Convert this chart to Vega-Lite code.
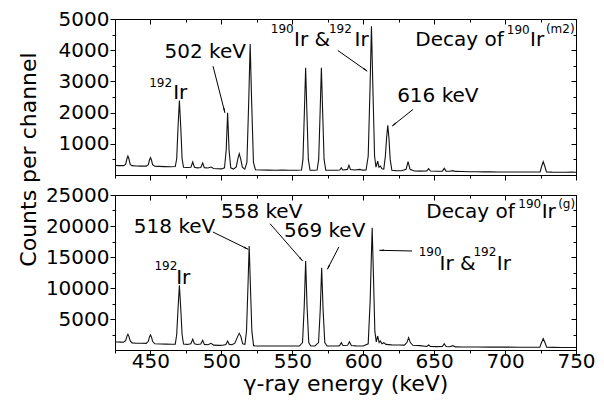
{
  "$schema": "https://vega.github.io/schema/vega-lite/v6.json",
  "padding": {"left": 16, "top": 8, "right": 5, "bottom": 2},
  "spacing": 20,
  "bounds": "flush",
  "config": {
    "font": "DejaVu Sans",
    "view": {"stroke": "black", "strokeWidth": 1},
    "axis": {"domainColor": "black", "tickColor": "black", "labelColor": "black", "titleColor": "black", "grid": false, "labelFontSize": 20, "titleFontSize": 22, "titleFontWeight": "normal", "labelFont": "DejaVu Sans", "titleFont": "DejaVu Sans", "domainWidth": 1, "tickWidth": 1, "labelOverlap": false, "labelFlush": false, "labelPadding": 1},
    "text": {"font": "DejaVu Sans", "color": "black"}
  },
  "datasets": {
    "m2": [
      {"e":425,"c":310},{"e":427,"c":300},{"e":429,"c":305},{"e":431,"c":300},{"e":432.5,"c":340},{"e":433.4,"c":520},{"e":434.1,"c":608},{"e":434.8,"c":520},{"e":435.7,"c":340},{"e":437,"c":300},{"e":440,"c":290},{"e":443,"c":285},{"e":447,"c":285},{"e":448.5,"c":330},{"e":449.3,"c":480},{"e":450,"c":554},{"e":450.7,"c":480},{"e":451.5,"c":330},{"e":453,"c":280},{"e":456,"c":275},{"e":460,"c":270},{"e":464,"c":265},{"e":467.5,"c":270},{"e":468.5,"c":520},{"e":469.4,"c":1500},{"e":470.4,"c":2390},{"e":471.4,"c":1500},{"e":472.3,"c":520},{"e":473.3,"c":250},{"e":476,"c":240},{"e":478.5,"c":250},{"e":479.8,"c":416},{"e":481,"c":250},{"e":483,"c":230},{"e":485.5,"c":240},{"e":486.8,"c":384},{"e":488,"c":235},{"e":490.5,"c":225},{"e":492.7,"c":256},{"e":494.5,"c":210},{"e":497,"c":200},{"e":500,"c":195},{"e":502.2,"c":230},{"e":503.4,"c":800},{"e":504.4,"c":1994},{"e":505.4,"c":800},{"e":506.6,"c":230},{"e":508.5,"c":190},{"e":510.5,"c":260},{"e":511.6,"c":520},{"e":512.6,"c":682},{"e":513.6,"c":520},{"e":514.8,"c":250},{"e":516.5,"c":190},{"e":518,"c":400},{"e":519.3,"c":2400},{"e":520.3,"c":4202},{"e":521.3,"c":2400},{"e":522.6,"c":400},{"e":524,"c":170},{"e":528,"c":160},{"e":533,"c":155},{"e":538,"c":150},{"e":543,"c":155},{"e":548,"c":150},{"e":553,"c":150},{"e":556.5,"c":160},{"e":557.5,"c":500},{"e":558.5,"c":2000},{"e":559.4,"c":3434},{"e":560.3,"c":2000},{"e":561.3,"c":500},{"e":562.5,"c":150},{"e":565,"c":150},{"e":567.5,"c":160},{"e":568.6,"c":500},{"e":569.6,"c":2000},{"e":570.5,"c":3434},{"e":571.4,"c":2000},{"e":572.4,"c":500},{"e":573.6,"c":150},{"e":577,"c":150},{"e":581,"c":150},{"e":583.5,"c":160},{"e":584.5,"c":234},{"e":585.5,"c":160},{"e":588.8,"c":180},{"e":589.9,"c":310},{"e":591,"c":175},{"e":594,"c":160},{"e":597.6,"c":181},{"e":599.5,"c":155},{"e":602,"c":160},{"e":603.5,"c":600},{"e":604.8,"c":2800},{"e":605.8,"c":4768},{"e":606.8,"c":2800},{"e":608,"c":600},{"e":609,"c":250},{"e":610.2,"c":448},{"e":611.1,"c":250},{"e":612.1,"c":288},{"e":613.2,"c":200},{"e":614.5,"c":190},{"e":615.6,"c":600},{"e":616.5,"c":1200},{"e":617.3,"c":1590},{"e":618.1,"c":1200},{"e":619,"c":500},{"e":620.2,"c":150},{"e":623,"c":140},{"e":627,"c":135},{"e":630.2,"c":180},{"e":631.6,"c":427},{"e":633,"c":180},{"e":636,"c":130},{"e":640,"c":125},{"e":644.8,"c":130},{"e":646.1,"c":203},{"e":647.4,"c":128},{"e":652,"c":120},{"e":655.8,"c":125},{"e":657.1,"c":213},{"e":658.4,"c":125},{"e":661,"c":120},{"e":663.2,"c":140},{"e":665,"c":115},{"e":670,"c":110},{"e":675,"c":105},{"e":680,"c":103},{"e":685,"c":100},{"e":690,"c":100},{"e":695,"c":98},{"e":700,"c":97},{"e":705,"c":96},{"e":710,"c":95},{"e":715,"c":95},{"e":720,"c":95},{"e":724.7,"c":100},{"e":725.8,"c":280},{"e":726.9,"c":427},{"e":728,"c":280},{"e":729.2,"c":100},{"e":733,"c":92},{"e":738,"c":90},{"e":743,"c":88},{"e":747,"c":92},{"e":750,"c":90}
    ],
    "g": [
      {"e":425,"c":1290},{"e":427,"c":1280},{"e":429,"c":1270},{"e":431,"c":1250},{"e":432.5,"c":1500},{"e":433.4,"c":2200},{"e":434.1,"c":2527},{"e":434.8,"c":2200},{"e":435.7,"c":1500},{"e":437,"c":1150},{"e":440,"c":1100},{"e":444,"c":1080},{"e":447,"c":1075},{"e":448.5,"c":1400},{"e":449.3,"c":2100},{"e":450,"c":2419},{"e":450.7,"c":2100},{"e":451.5,"c":1400},{"e":453,"c":1000},{"e":457,"c":960},{"e":461,"c":940},{"e":465,"c":920},{"e":467.5,"c":950},{"e":468.5,"c":2500},{"e":469.4,"c":6500},{"e":470.4,"c":10430},{"e":471.4,"c":6500},{"e":472.3,"c":2500},{"e":473.3,"c":950},{"e":476,"c":900},{"e":478.5,"c":1000},{"e":479.8,"c":1720},{"e":481,"c":1000},{"e":483,"c":880},{"e":485.5,"c":950},{"e":486.8,"c":1559},{"e":488,"c":900},{"e":490.5,"c":850},{"e":492.7,"c":1075},{"e":494.5,"c":780},{"e":498,"c":750},{"e":501,"c":760},{"e":503.2,"c":900},{"e":504.4,"c":1452},{"e":505.6,"c":900},{"e":507.5,"c":850},{"e":509.5,"c":1100},{"e":511.5,"c":2200},{"e":512.6,"c":2688},{"e":513.7,"c":2200},{"e":515,"c":1000},{"e":516.6,"c":900},{"e":517.7,"c":3000},{"e":518.7,"c":10000},{"e":519.6,"c":16774},{"e":520.5,"c":10000},{"e":521.5,"c":3000},{"e":522.7,"c":700},{"e":525,"c":650},{"e":530,"c":645},{"e":535,"c":640},{"e":540,"c":640},{"e":545,"c":645},{"e":550,"c":640},{"e":555,"c":645},{"e":557.2,"c":1200},{"e":558.4,"c":7000},{"e":559.4,"c":14355},{"e":560.4,"c":7000},{"e":561.6,"c":1200},{"e":563,"c":650},{"e":566,"c":645},{"e":568.5,"c":1200},{"e":569.7,"c":6500},{"e":570.7,"c":13280},{"e":571.7,"c":6500},{"e":572.9,"c":1200},{"e":574.5,"c":650},{"e":578,"c":645},{"e":582,"c":650},{"e":583.3,"c":700},{"e":584.5,"c":1183},{"e":585.7,"c":720},{"e":589,"c":760},{"e":590.3,"c":1344},{"e":591.6,"c":720},{"e":595,"c":660},{"e":600,"c":650},{"e":603.5,"c":1000},{"e":604.9,"c":8000},{"e":605.6,"c":14000},{"e":606.3,"c":19731},{"e":607.2,"c":12000},{"e":608.2,"c":3000},{"e":609.2,"c":1300},{"e":610.2,"c":2258},{"e":611.2,"c":1200},{"e":612.1,"c":1452},{"e":613.2,"c":1000},{"e":614.5,"c":1183},{"e":616,"c":900},{"e":620,"c":830},{"e":625,"c":800},{"e":629,"c":790},{"e":630.8,"c":1200},{"e":632,"c":1989},{"e":633.2,"c":1200},{"e":635,"c":760},{"e":640,"c":700},{"e":644.8,"c":560},{"e":646.1,"c":806},{"e":647.4,"c":560},{"e":652,"c":540},{"e":655.8,"c":560},{"e":657.1,"c":1022},{"e":658.4,"c":560},{"e":661,"c":520},{"e":663.2,"c":700},{"e":665,"c":500},{"e":670,"c":490},{"e":680,"c":480},{"e":690,"c":470},{"e":700,"c":460},{"e":710,"c":450},{"e":718,"c":440},{"e":724.5,"c":440},{"e":725.7,"c":1200},{"e":726.9,"c":1828},{"e":728.1,"c":1200},{"e":729.3,"c":450},{"e":734,"c":420},{"e":740,"c":410},{"e":745,"c":405},{"e":750,"c":400}
    ],
    "m2txt": [
      {"t":"Ir","e":466.0,"c":2432,"k":"big"},
      {"t":"502 keV","e":459.9,"c":3734,"k":"big"},
      {"t":"Ir &","e":551.2,"c":4120,"k":"big"},
      {"t":"Ir","e":593.9,"c":4120,"k":"big"},
      {"t":"Decay of","e":636.7,"c":4120,"k":"big"},
      {"t":"Ir","e":717.6,"c":4120,"k":"big"},
      {"t":"616 keV","e":623.9,"c":2336,"k":"big"},
      {"t":"192","e":449.1,"c":2816,"k":"small"},
      {"t":"190","e":534.8,"c":4544,"k":"small"},
      {"t":"192","e":575.8,"c":4544,"k":"small"},
      {"t":"190","e":701.2,"c":4512,"k":"small"},
      {"t":"(m2)","e":728.8,"c":4544,"k":"small"}
    ],
    "gtxt": [
      {"t":"518 keV","e":438.3,"c":18823,"k":"big"},
      {"t":"558 keV","e":499.7,"c":21339,"k":"big"},
      {"t":"569 keV","e":544.1,"c":18274,"k":"big"},
      {"t":"Ir","e":468.1,"c":10694,"k":"big"},
      {"t":"Decay of","e":644.5,"c":21339,"k":"big"},
      {"t":"Ir","e":725.8,"c":21339,"k":"big"},
      {"t":"Ir &","e":653.8,"c":12855,"k":"big"},
      {"t":"Ir","e":694.2,"c":12855,"k":"big"},
      {"t":"192","e":452.8,"c":12903,"k":"small"},
      {"t":"190","e":709.3,"c":22952,"k":"small"},
      {"t":"(g)","e":737.4,"c":22952,"k":"small"},
      {"t":"190","e":639.1,"c":15113,"k":"small"},
      {"t":"192","e":677.7,"c":15113,"k":"small"}
    ],
    "m2arr": [
      {"x1":494.1,"y1":3488,"x2":502.5,"y2":1994},
      {"x1":582.1,"y1":3990,"x2":602.8,"y2":3328},
      {"x1":635.1,"y1":2102,"x2":620.4,"y2":1568}
    ],
    "garr": [
      {"x1":494.0,"y1":19032,"x2":518.9,"y2":16242},
      {"x1":534.3,"y1":20371,"x2":557.3,"y2":14355},
      {"x1":582.8,"y1":16613,"x2":574.7,"y2":13016},
      {"x1":634.4,"y1":15968,"x2":611.4,"y2":16081}
    ]
  },
  "vconcat": [
    {
      "width": 461,
      "height": 156,
      "layer": [
        {
          "data": {"name": "m2"},
          "mark": {"type": "line", "color": "#111111", "strokeWidth": 1.1},
          "encoding": {
            "x": {"field": "e", "type": "quantitative", "scale": {"domain": [425, 750], "nice": false, "zero": false},
              "axis": {"values": [425,450,475,500,525,550,575,600,625,650,675,700,725,750], "labels": false, "title": null,
                "tickSize": {"condition": {"test": "datum.value % 50 === 0", "value": 5}, "value": 3}}},
            "y": {"field": "c", "type": "quantitative", "scale": {"domain": [0, 5000], "nice": false},
              "axis": {"values": [500,1000,1500,2000,2500,3000,3500,4000,4500,5000], "format": "d",
                "labelExpr": "datum.value % 1000 === 0 ? datum.label : ''",
                "tickSize": {"condition": {"test": "datum.value % 1000 === 0", "value": 5}, "value": 3},
                "title": "Counts per channel", "titleAngle": 270, "titleX": -87, "titleY": 140, "titleAlign": "center", "titleBaseline": "middle"}}
          }
        },
        {
          "data": {"name": "m2txt"},
          "transform": [{"filter": "datum.k === 'big'"}],
          "mark": {"type": "text", "align": "left", "baseline": "alphabetic", "fontSize": 20},
          "encoding": {
            "x": {"field": "e", "type": "quantitative",
              "axis": {"orient": "top", "values": [425,450,475,500,525,550,575,600,625,650,675,700,725,750], "labels": false, "title": null, "domain": false,
                "tickSize": {"condition": {"test": "datum.value % 50 === 0", "value": -5}, "value": -3}}},
            "y": {"field": "c", "type": "quantitative",
              "axis": {"orient": "right", "values": [500,1000,1500,2000,2500,3000,3500,4000,4500], "labels": false, "title": null, "domain": false,
                "tickSize": {"condition": {"test": "datum.value % 1000 === 0", "value": -5}, "value": -3}}},
            "text": {"field": "t"}
          }
        },
        {
          "data": {"name": "m2txt"},
          "transform": [{"filter": "datum.k === 'small'"}],
          "mark": {"type": "text", "align": "left", "baseline": "alphabetic", "fontSize": 12},
          "encoding": {
            "x": {"field": "e", "type": "quantitative", "axis": null},
            "y": {"field": "c", "type": "quantitative", "axis": null},
            "text": {"field": "t"}
          }
        },
        {
          "data": {"name": "m2arr"},
          "mark": {"type": "rule", "color": "black", "strokeWidth": 1},
          "encoding": {
            "x": {"field": "x1", "type": "quantitative", "axis": null},
            "y": {"field": "y1", "type": "quantitative", "axis": null},
            "x2": {"field": "x2"},
            "y2": {"field": "y2"}
          }
        },
        {
          "data": {"values": [{"e": 502.0, "c": 2086}]},
          "mark": {"type": "point", "shape": "wedge", "filled": true, "color": "black", "size": 35, "angle": 165.6, "opacity": 1},
          "encoding": {"x": {"field": "e", "type": "quantitative", "axis": null}, "y": {"field": "c", "type": "quantitative", "axis": null}}
        },
        {
          "data": {"values": [{"e": 601.1, "c": 3383}]},
          "mark": {"type": "point", "shape": "wedge", "filled": true, "color": "black", "size": 35, "angle": 125.2, "opacity": 1},
          "encoding": {"x": {"field": "e", "type": "quantitative", "axis": null}, "y": {"field": "c", "type": "quantitative", "axis": null}}
        },
        {
          "data": {"values": [{"e": 622.0, "c": 1628}]},
          "mark": {"type": "point", "shape": "wedge", "filled": true, "color": "black", "size": 35, "angle": 231.5, "opacity": 1},
          "encoding": {"x": {"field": "e", "type": "quantitative", "axis": null}, "y": {"field": "c", "type": "quantitative", "axis": null}}
        }
      ],
      "resolve": {"axis": {"x": "independent", "y": "independent"}}
    },
    {
      "width": 461,
      "height": 155,
      "layer": [
        {
          "data": {"name": "g"},
          "mark": {"type": "line", "color": "#111111", "strokeWidth": 1.1},
          "encoding": {
            "x": {"field": "e", "type": "quantitative", "scale": {"domain": [425, 750], "nice": false, "zero": false},
              "axis": {"values": [425,450,475,500,525,550,575,600,625,650,675,700,725,750], "format": "d",
                "labelExpr": "datum.value % 50 === 0 ? datum.label : ''", "labelPadding": -4,
                "tickSize": {"condition": {"test": "datum.value % 50 === 0", "value": 5}, "value": 3},
                "title": "γ-ray energy (keV)", "titlePadding": 2}},
            "y": {"field": "c", "type": "quantitative", "scale": {"domain": [0, 25000], "nice": false},
              "axis": {"values": [2500,5000,7500,10000,12500,15000,17500,20000,22500,25000], "format": "d",
                "labelExpr": "datum.value % 5000 === 0 ? datum.label : ''",
                "tickSize": {"condition": {"test": "datum.value % 5000 === 0", "value": 5}, "value": 3},
                "title": null}}
          }
        },
        {
          "data": {"name": "gtxt"},
          "transform": [{"filter": "datum.k === 'big'"}],
          "mark": {"type": "text", "align": "left", "baseline": "alphabetic", "fontSize": 20},
          "encoding": {
            "x": {"field": "e", "type": "quantitative",
              "axis": {"orient": "top", "values": [425,450,475,500,525,550,575,600,625,650,675,700,725,750], "labels": false, "title": null, "domain": false,
                "tickSize": {"condition": {"test": "datum.value % 50 === 0", "value": -5}, "value": -3}}},
            "y": {"field": "c", "type": "quantitative",
              "axis": {"orient": "right", "values": [2500,5000,7500,10000,12500,15000,17500,20000,22500], "labels": false, "title": null, "domain": false,
                "tickSize": {"condition": {"test": "datum.value % 5000 === 0", "value": -5}, "value": -3}}},
            "text": {"field": "t"}
          }
        },
        {
          "data": {"name": "gtxt"},
          "transform": [{"filter": "datum.k === 'small'"}],
          "mark": {"type": "text", "align": "left", "baseline": "alphabetic", "fontSize": 12},
          "encoding": {
            "x": {"field": "e", "type": "quantitative", "axis": null},
            "y": {"field": "c", "type": "quantitative", "axis": null},
            "text": {"field": "t"}
          }
        },
        {
          "data": {"name": "garr"},
          "mark": {"type": "rule", "color": "black", "strokeWidth": 1},
          "encoding": {
            "x": {"field": "x1", "type": "quantitative", "axis": null},
            "y": {"field": "y1", "type": "quantitative", "axis": null},
            "x2": {"field": "x2"},
            "y2": {"field": "y2"}
          }
        },
        {
          "data": {"values": [{"e": 517.0, "c": 16455}]},
          "mark": {"type": "point", "shape": "wedge", "filled": true, "color": "black", "size": 35, "angle": 116.1, "opacity": 1},
          "encoding": {"x": {"field": "e", "type": "quantitative", "axis": null}, "y": {"field": "c", "type": "quantitative", "axis": null}}
        },
        {
          "data": {"values": [{"e": 555.9, "c": 14719}]},
          "mark": {"type": "point", "shape": "wedge", "filled": true, "color": "black", "size": 35, "angle": 138.8, "opacity": 1},
          "encoding": {"x": {"field": "e", "type": "quantitative", "axis": null}, "y": {"field": "c", "type": "quantitative", "axis": null}}
        },
        {
          "data": {"values": [{"e": 575.7, "c": 13445}]},
          "mark": {"type": "point", "shape": "wedge", "filled": true, "color": "black", "size": 35, "angle": 207.5, "opacity": 1},
          "encoding": {"x": {"field": "e", "type": "quantitative", "axis": null}, "y": {"field": "c", "type": "quantitative", "axis": null}}
        },
        {
          "data": {"values": [{"e": 613.5, "c": 16081}]},
          "mark": {"type": "point", "shape": "wedge", "filled": true, "color": "black", "size": 35, "angle": 271.2, "opacity": 1},
          "encoding": {"x": {"field": "e", "type": "quantitative", "axis": null}, "y": {"field": "c", "type": "quantitative", "axis": null}}
        }
      ],
      "resolve": {"axis": {"x": "independent", "y": "independent"}}
    }
  ]
}
